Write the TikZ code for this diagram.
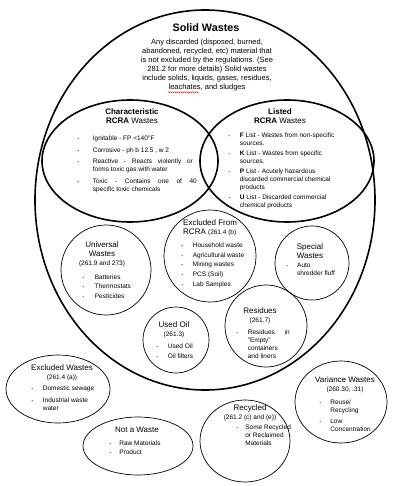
\documentclass[tikz,border=0pt]{standalone}
\usepackage{fontspec}
\setmainfont{Liberation Sans}
\usetikzlibrary{positioning,decorations.pathmorphing}

\tikzset{
  thin blob/.style={draw, line width=.7pt},
  thick blob/.style={draw, line width=1.6pt},
  ttl/.style={font=\fontsize{10.8}{12}\selectfont\bfseries, inner sep=0pt},
  dsc/.style={font=\fontsize{7.5}{9}\selectfont, align=center, inner sep=0pt},
  hdr/.style={font=\fontsize{8}{8.8}\selectfont, align=center, inner sep=0pt},
  lst/.style={font=\fontsize{6.5}{8}\selectfont, inner sep=0pt, anchor=north west},
}
\newcommand{\bu}{\scalebox{.6}{\textbullet}}
\newcommand{\blist}[2][9.5pt]{\begin{tabular}{@{}l@{\hspace{#1}}l@{}}#2\end{tabular}}
\newcommand{\refn}[1]{{\fontsize{6.5}{8}\selectfont #1}}

\begin{document}
\begin{tikzpicture}[x=1pt,y=-1pt]
  \useasboundingbox (0,0) rectangle (400,486);
  \fill[white] (0,0) rectangle (400,486);
  \draw[thick blob] (205,200) ellipse (170 and 190);
  \draw[thick blob] (130,161) ellipse (88 and 61);
  \draw[thick blob] (287,161) ellipse (87 and 61);
  \draw[thin blob] (106,270) circle (45);
  \draw[thin blob] (210,256) circle (46);
  \draw[thin blob] (312,263) circle (37);
  \draw[thin blob] (176,340) circle (33);
  \draw[thin blob] (266,326) circle (41);
  \draw[thin blob] (58,389) ellipse (52 and 34);
  \draw[thin blob] (138,446) ellipse (55 and 29);
  \draw[thin blob] (245,441) ellipse (45 and 41);
  \draw[thin blob] (341,402) ellipse (46 and 41);

  \node[ttl] (solid) at (206,28) {Solid Wastes};
  \node[dsc] (soliddef) at (207,65) {Any discarded (disposed, burned,\\
    abandoned, recycled, etc) material that\\
    is not excluded by the regulations. (See\\
    281.2 for more details) Solid wastes\\
    include solids, liquids, gases, residues,\\
    leachates, and sludges};
  \draw[red, line width=.4pt, decorate, decoration={snake, amplitude=.5pt, segment length=2pt}]
    ([xshift=-39pt,yshift=-1pt]soliddef.south) -- ([xshift=-8pt,yshift=-1pt]soliddef.south);

  \node[hdr] (charhd) at (132,116) {\textbf{Characteristic}\\\textbf{RCRA} Wastes};
  \node[lst] (charls) at (77.3,134.4) {\blist[14pt]{
    \bu & Ignitable - FP <140°F\\[3.8pt]
    \bu & Corrosive - ph b 12.5 , w 2\\[3.8pt]
    \bu & \makebox[100pt][s]{Reactive - Reacts violently or}\\
        & forms toxic gas with water\\[3.8pt]
    \bu & \makebox[104pt][s]{Toxic - Contains one of 40}\\
        & specific toxic chemicals}};

  \node[hdr] (listhd) at (280,116) {\textbf{Listed}\\\textbf{RCRA} Wastes};
  \node[lst] (listls) at (228.3,131.4) {\blist[10pt]{
    \bu & \textbf{F} List - Wastes from non-specific\\
        & sources.\\[2pt]
    \bu & \textbf{K} List - Wastes from specific\\
        & sources.\\[2pt]
    \bu & \textbf{P} List - Acutely hazardous\\
        & discarded commercial chemical\\
        & products\\[2pt]
    \bu & \textbf{U} List - Discarded commercial\\
        & chemical products}};

  \node[hdr] (univhd) at (102,254) {Universal\\Wastes\\\refn{(261.9 and 273)}};
  \node[lst] (univls) at (82.3,273.4) {\blist[11pt]{
    \bu & Batteries\\[1.5pt]
    \bu & Thermostats\\[1.5pt]
    \bu & Pesticides}};

  \node[hdr, align=left, anchor=west] (exrhd) at (183,228) {Excluded From\\RCRA \refn{(261.4 (b)}};
  \node[lst] (exrls) at (181.3,241.4) {\blist[10pt]{
    \bu & Household waste\\[1.8pt]
    \bu & Agricultural waste\\[1.8pt]
    \bu & Mining wastes\\[1.8pt]
    \bu & PCS (Soil)\\[1.8pt]
    \bu & Lab Samples}};

  \node[hdr] (spechd) at (310,251) {Special\\Wastes};
  \node[lst] (specls) at (286.3,261.4) {\blist[9.3pt]{
    \bu & Auto\\
        & shredder fluff}};

  \node[hdr] (oilhd) at (174,329.5) {Used Oil\\\refn{(261.3)}};
  \node[lst] (oills) at (156.3,342.4) {\blist[10pt]{
    \bu & Used Oil\\[2.5pt]
    \bu & Oil filters}};

  \node[hdr] (reshd) at (260,316) {Residues\\\refn{(261.7)}};
  \node[lst] (resls) at (236.3,328.4) {\blist[10pt]{
    \bu & \makebox[42pt][s]{Residues in}\\
        & "Empty"\\
        & containers\\
        & and liners}};

  \node[hdr] (exwhd) at (62,372.5) {Excluded Wastes\\\refn{(261.4 (a))}};
  \node[lst] (exwls) at (31.3,384.4) {\blist[10pt]{
    \bu & Domestic sewage\\[4pt]
    \bu & Industrial waste\\
        & water}};

  \node[hdr] (nothd) at (137,430) {Not a Waste};
  \node[lst] (notls) at (109.3,439.4) {\blist[8.5pt]{
    \bu & Raw Materials\\[1pt]
    \bu & Product}};

  \node[hdr] (rechd) at (250,413) {Recycled\\\refn{(261.2 (c) and (e))}};
  \node[lst] (recls) at (236.3,423.4) {\blist[7.5pt]{
    \bu & Some Recycled\\
        & or Reclaimed\\
        & Materials}};

  \node[hdr] (varhd) at (345,385) {Variance Wastes\\\refn{(260.30, .31)}};
  \node[lst] (varls) at (319.3,398.4) {\blist[9.5pt]{
    \bu & Reuse/\\
        & Recycling\\[3.5pt]
    \bu & Low\\
        & Concentration}};
\end{tikzpicture}
\end{document}
